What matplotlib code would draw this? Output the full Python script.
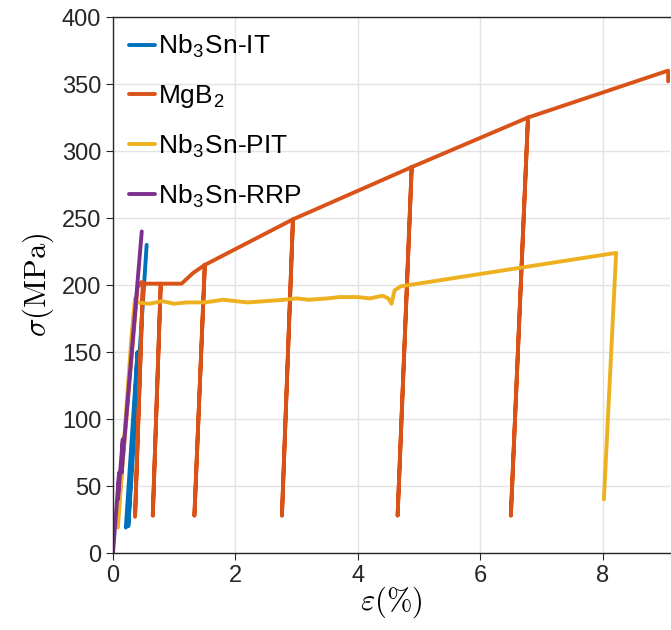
import matplotlib.pyplot as plt

plt.rcParams['font.family'] = ['Liberation Sans', 'DejaVu Sans']
plt.rcParams['mathtext.fontset'] = 'cm'

# Data (strain in %, stress in MPa)
it_strain = [0.21, 0.40, 0.25, 0.55]
it_stress = [19, 150, 20, 230]

mgb2_strain = [0.08, 0.40, 0.46, 0.49, 0.36, 0.49, 0.78, 0.65, 0.78, 1.12, 1.31, 1.50,
               1.33, 1.50, 2.94, 2.76, 2.94, 4.88, 4.65, 4.88, 6.78, 6.50, 6.78, 9.07, 9.07]
mgb2_stress = [26, 198, 202, 202, 27, 201, 201, 28, 201, 201, 209, 215,
               28, 215, 249, 28, 249, 288, 28, 288, 325, 28, 325, 360, 352]

pit_strain = [0.08, 0.30, 0.36, 0.39, 0.6, 0.8, 1.0, 1.2, 1.5, 1.8, 2.0, 2.2, 2.5, 2.8,
              3.0, 3.2, 3.5, 3.7, 4.0, 4.2, 4.4, 4.5, 4.55, 4.6, 4.7, 8.22, 8.02]
pit_stress = [19, 160, 190, 187, 186, 188, 186, 187, 187, 189, 188, 187, 188, 189,
              190, 189, 190, 191, 191, 190, 192, 190, 186, 196, 199, 224, 40]

rrp_strain = [0.0, 0.10, 0.08, 0.16, 0.14, 0.47]
rrp_stress = [0, 60, 40, 85, 60, 240]

fig = plt.figure(figsize=(6.71, 6.3), dpi=100)
ax = fig.add_axes([0.1684, 0.1222, 0.8301, 0.8508])

lw = 2.8
kw = dict(lw=lw, solid_joinstyle='round', solid_capstyle='round')
ax.plot(it_strain, it_stress, color='#0072BD', label='Nb$_\\mathregular{3}$Sn-IT', **kw)
ax.plot(mgb2_strain, mgb2_stress, color='#D95319', label='MgB$_\\mathregular{2}$', **kw)
ax.plot(pit_strain, pit_stress, color='#EDB120', label='Nb$_\\mathregular{3}$Sn-PIT', **kw)
ax.plot(rrp_strain, rrp_stress, color='#7E2F8E', label='Nb$_\\mathregular{3}$Sn-RRP', **kw)

ax.set_xlim(0, 9.1)
ax.set_ylim(0, 400)
ax.set_xticks([0, 2, 4, 6, 8])
ax.set_yticks(range(0, 401, 50))
ax.grid(True, color='#e3e3e3', lw=1)
ax.set_axisbelow(True)

for s in ['left', 'bottom', 'top']:
    ax.spines[s].set_color('#262626')
    ax.spines[s].set_linewidth(1)
ax.spines['right'].set_visible(False)
ax.tick_params(direction='out', length=5, colors='#262626', labelsize=17)

ax.set_xlabel(r'$\varepsilon(\%)$', fontsize=22, labelpad=-2)
ax.set_ylabel(r'$\sigma(\mathrm{MPa})$', fontsize=22, labelpad=4)

ax.legend(loc='upper left', frameon=False, fontsize=19, handlelength=1.0,
          handletextpad=0.1, labelspacing=0.85, borderaxespad=0.2,
          bbox_to_anchor=(0.0, 1.0))

fig.savefig('out.png', dpi=100)
